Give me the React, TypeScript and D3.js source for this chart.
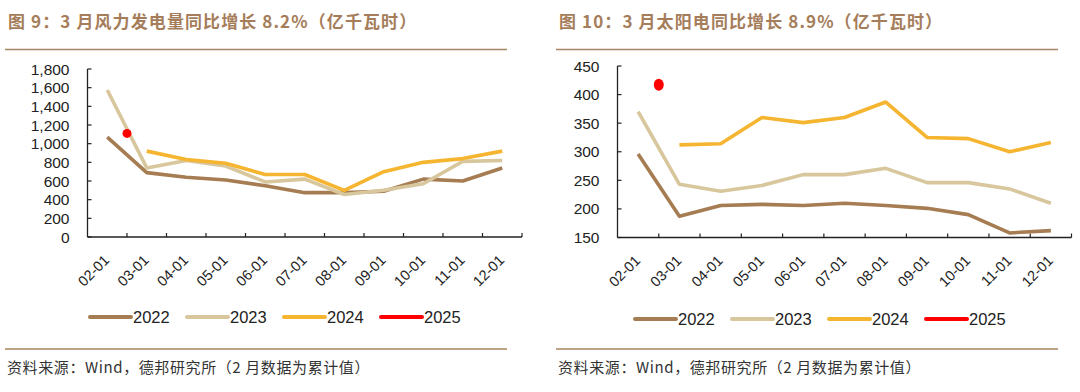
import * as d3 from 'd3';

const months = ['02-01', '03-01', '04-01', '05-01', '06-01', '07-01', '08-01', '09-01', '10-01', '11-01', '12-01'];
const years = ['2022', '2023', '2024', '2025'];
const yearColors = ['#a67c52', '#d8c69d', '#f6b530', '#ff0000'];

// 风电（亿千瓦时）
const wind2022 = [1070, 690, 640, 610, 550, 475, 475, 490, 620, 600, 740];
const wind2023 = [1575, 740, 820, 760, 590, 620, 455, 500, 570, 810, 820];
const wind2024 = [null, 920, 830, 790, 670, 670, 500, 700, 800, 840, 920];
const wind2025 = 1110;

// 太阳能（亿千瓦时）
const solar2022 = [296, 187, 206, 208, 206, 210, 206, 201, 190, 158, 162];
const solar2023 = [370, 243, 231, 241, 260, 260, 271, 246, 246, 235, 210];
const solar2024 = [null, 312, 314, 360, 351, 360, 387, 325, 323, 300, 316];
const solar2025 = 417;

const windTicks = [0, 200, 400, 600, 800, 1000, 1200, 1400, 1600, 1800];
const solarTicks = [150, 200, 250, 300, 350, 400, 450];

const latin = '"Liberation Sans", Arial, "Noto Sans CJK SC", sans-serif';
const cjk = '"Noto Sans CJK SC", "Liberation Sans", sans-serif';
const titleColor = '#a57d5b';

interface PanelProps {
  title: string;
  left: number;
  ruleEnd: number;
  axisX: number;
  axisEnd: number;
  yTop: number;
  yBottom: number;
  domain: [number, number];
  ticks: number[];
  series: (number | null)[][];
  last: number;
  dot: [number, number];
  legendX: number;
  legendY: number;
}

function Panel(p: PanelProps) {
  const x = d3.scaleBand<string>().domain(months).range([p.axisX, p.axisEnd]).padding(0);
  const y = d3.scaleLinear().domain(p.domain).range([p.yBottom, p.yTop]);
  const fmt = d3.format(',');
  const line = d3
    .line<number | null>()
    .defined((d) => d != null)
    .x((_, i) => (x(months[i]) ?? 0) + x.bandwidth() / 2)
    .y((d) => y(d as number));
  // 2025 的点落在 02-01 与 03-01 之间
  const x25 = (x(months[0]) ?? 0) + x.bandwidth();
  const bounds = months.map((m) => (x(m) ?? 0) + x.bandwidth());

  return (
    <g>
      <text
        x={p.left + 3}
        y={28}
        fill={titleColor}
        fontSize={17}
        fontWeight="bold"
        fontFamily={cjk}
        letterSpacing={1.1}
      >
        {p.title}
      </text>
      <line x1={p.left} x2={p.ruleEnd} y1={49.5} y2={49.5} stroke="#a98462" strokeWidth={1.5} />

      {/* y axis */}
      <line x1={p.axisX} x2={p.axisX} y1={p.yTop} y2={p.yBottom} stroke="#222" strokeWidth={1.3} />
      {p.ticks.map((t) => (
        <g key={t}>
          <line x1={p.axisX} x2={p.axisX + 4} y1={y(t)} y2={y(t)} stroke="#222" strokeWidth={1.2} />
          <text
            x={p.axisX - 18}
            y={y(t)}
            dy="0.36em"
            textAnchor="end"
            fontSize={15.5}
            fontFamily={latin}
            fill="#222"
          >
            {fmt(t)}
          </text>
        </g>
      ))}

      {/* x axis */}
      <line x1={p.axisX} x2={p.axisEnd} y1={p.yBottom} y2={p.yBottom} stroke="#222" strokeWidth={1.3} />
      {bounds.map((b, i) => (
        <line key={i} x1={b} x2={b} y1={p.yBottom} y2={p.yBottom - 4} stroke="#222" strokeWidth={1.2} />
      ))}
      {months.map((m) => {
        const cx = (x(m) ?? 0) + x.bandwidth() / 2;
        return (
          <text
            key={m}
            transform={`translate(${cx + 3},${p.yBottom + 24}) rotate(-45)`}
            textAnchor="end"
            fontSize={14.5}
            fontFamily={latin}
            fill="#222"
          >
            {m}
          </text>
        );
      })}

      {/* lines */}
      {p.series.map((s, i) => (
        <path
          key={years[i]}
          d={line(s) ?? ''}
          fill="none"
          stroke={yearColors[i]}
          strokeWidth={3.6}
          strokeLinejoin="round"
        />
      ))}
      <ellipse cx={x25} cy={y(p.last)} rx={p.dot[0]} ry={p.dot[1]} fill={yearColors[3]} />

      {/* legend */}
      {years.map((yr, i) => {
        const lx = p.legendX + i * 97;
        return (
          <g key={yr}>
            <line
              x1={lx}
              x2={lx + 41}
              y1={p.legendY}
              y2={p.legendY}
              stroke={yearColors[i]}
              strokeWidth={4}
              strokeLinecap="round"
            />
            <text x={lx + 43} y={p.legendY} dy="0.36em" fontSize={16.5} fontFamily={latin} fill="#222">
              {yr}
            </text>
          </g>
        );
      })}

      <line x1={p.left} x2={p.ruleEnd} y1={349} y2={349} stroke="#a98462" strokeWidth={1.5} />
      <text x={p.left + 2} y={373} fontSize={15} fontFamily={cjk} fill="#333" letterSpacing={0.6}>
        资料来源：Wind，德邦研究所（2 月数据为累计值）
      </text>
    </g>
  );
}

export default function App() {
  return (
    <svg
      width={1080}
      height={392}
      style={{ position: 'absolute', left: 0, top: 0, background: '#fff' }}
    >
      <rect width={1080} height={392} fill="#fff" />
      <Panel
        title="图 9：3 月风力发电量同比增长 8.2%（亿千瓦时）"
        left={5}
        ruleEnd={507}
        axisX={87.5}
        axisEnd={522}
        yTop={69}
        yBottom={237}
        domain={[0, 1800]}
        ticks={windTicks}
        series={[wind2022, wind2023, wind2024]}
        last={wind2025}
        dot={[4.5, 4.5]}
        legendX={90}
        legendY={317}
      />
      <Panel
        title="图 10：3 月太阳电同比增长 8.9%（亿千瓦时）"
        left={556}
        ruleEnd={1058}
        axisX={617.5}
        axisEnd={1071.5}
        yTop={66}
        yBottom={237.5}
        domain={[150, 450]}
        ticks={solarTicks}
        series={[solar2022, solar2023, solar2024]}
        last={solar2025}
        dot={[5, 6]}
        legendX={635}
        legendY={319}
      />
    </svg>
  );
}
